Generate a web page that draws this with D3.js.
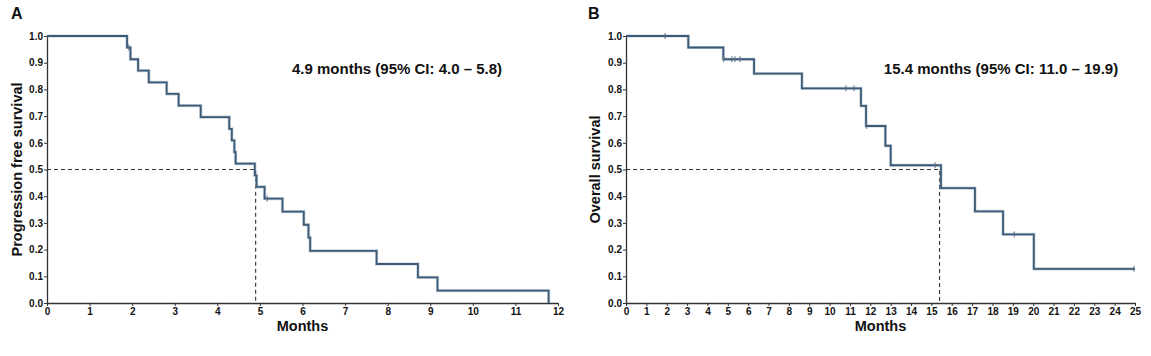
<!DOCTYPE html>
<html>
<head>
<meta charset="utf-8">
<script src="https://cdn.jsdelivr.net/npm/d3@7"></script>
<style>
  body { margin: 0; background: #fff; }
  svg { display: block; font-family: "Liberation Sans", Arial, sans-serif; }
</style>
</head>
<body>
<svg id="chart" width="1151" height="356"></svg>
<script>
// Panel A: progression free survival (step times in months, survival after step)
const pfsTimes = [0, 1.88, 1.96, 2.14, 2.39, 2.81, 3.09, 3.61, 4.28, 4.34, 4.40, 4.43, 4.88, 4.92, 5.11, 5.53, 6.03, 6.14, 6.18, 7.74, 8.71, 9.17, 11.78];
const pfsSurv  = [1.0, 0.957, 0.913, 0.870, 0.826, 0.783, 0.739, 0.696, 0.652, 0.609, 0.565, 0.522, 0.478, 0.435, 0.391, 0.342, 0.293, 0.245, 0.195, 0.146, 0.096, 0.046, 0.0];
const pfsCensorTimes = [1.92, 5.17];
const pfsMedian = 4.9;
const pfsLabel = "4.9 months (95% CI: 4.0 \u2013 5.8)";
const pfsXTicks = [0,1,2,3,4,5,6,7,8,9,10,11,12];

// Panel B: overall survival
const osTimes = [0, 3.06, 4.78, 6.29, 8.64, 11.54, 11.79, 12.74, 13.0, 15.47, 17.14, 18.52, 20.03, 25];
const osSurv  = [1.0, 0.957, 0.913, 0.859, 0.804, 0.738, 0.663, 0.589, 0.516, 0.43, 0.343, 0.257, 0.128, 0.128];
const osCensorTimes = [1.92, 4.8, 5.2, 5.35, 5.6, 10.8, 11.2, 11.82, 15.18, 19.07, 24.95];
const osMedian = 15.4;
const osLabel = "15.4 months (95% CI: 11.0 \u2013 19.9)";
const osXTicks = d3.range(0, 26);

const yTicks = [0,0.1,0.2,0.3,0.4,0.5,0.6,0.7,0.8,0.9,1.0];

const svg = d3.select("#chart");
const lineColor = "#3d5a76";

function survAt(times, surv, t) {
  let s = surv[0];
  for (let i = 0; i < times.length; i++) if (times[i] <= t) s = surv[i];
  return s;
}

function panel(opt) {
  const g = svg.append("g");
  const x = d3.scaleLinear().domain([0, opt.xMax]).range([opt.x0, opt.x1]);
  const y = d3.scaleLinear().domain([0, 1]).range([303, 36]);

  // axes
  const xAxis = d3.axisBottom(x).tickValues(opt.xTicks).tickSize(3).tickSizeOuter(0).tickFormat(d3.format("d"));
  const gx = g.append("g").attr("transform", `translate(0,${y(0)})`).call(xAxis);
  const yAxis = d3.axisLeft(y).tickValues(yTicks).tickSize(3).tickSizeOuter(0).tickFormat(d3.format(".1f"));
  const gy = g.append("g").attr("transform", `translate(${x(0)},0)`).call(yAxis);
  [gx, gy].forEach(a => {
    a.select(".domain").attr("stroke", "#333").attr("stroke-width", 1.3);
    a.selectAll(".tick line").attr("stroke", "#333");
    a.selectAll(".tick text").attr("fill", "#111").attr("font-size", 10).attr("font-weight", "bold")
      .attr("font-family", "Liberation Sans, Arial, sans-serif");
  });
  gx.selectAll(".tick text").attr("dy", "0.75em").attr("y", 4);
  gy.selectAll(".tick text").attr("x", -4);

  // median dashed lines
  g.append("path")
    .attr("d", `M${x(0)},${y(0.5)}H${x(opt.median)}V${y(0)}`)
    .attr("fill", "none").attr("stroke", "#333").attr("stroke-width", 1.1)
    .attr("stroke-dasharray", "4,3");

  // step curve
  const pts = opt.times.map((t, i) => [t, opt.surv[i]]);
  const line = d3.line().x(d => x(d[0])).y(d => y(d[1])).curve(d3.curveStepAfter);
  g.append("path").datum(pts).attr("d", line)
    .attr("fill", "none").attr("stroke", "#9fb3c6").attr("stroke-width", 3.2).attr("opacity", 0.6);
  g.append("path").datum(pts).attr("d", line)
    .attr("fill", "none").attr("stroke", lineColor).attr("stroke-width", 1.8);

  // censor marks
  g.selectAll(".cens").data(opt.censors).enter().append("line")
    .attr("x1", d => x(d)).attr("x2", d => x(d))
    .attr("y1", d => y(survAt(opt.times, opt.surv, d)) - 3)
    .attr("y2", d => y(survAt(opt.times, opt.surv, d)) + 3)
    .attr("stroke", "#5a6f82").attr("stroke-width", 1);

  // annotation
  g.append("text").attr("x", opt.labelX).attr("y", 74).attr("text-anchor", "middle")
    .attr("font-size", 15).attr("font-weight", "bold").attr("fill", "#111").text(opt.label);

  // axis titles
  g.append("text").attr("x", (opt.x0 + opt.x1) / 2).attr("y", 331).attr("text-anchor", "middle")
    .attr("font-size", 14.5).attr("font-weight", "bold").attr("fill", "#111").text("Months");
  g.append("text").attr("transform", `translate(${opt.yTitleX},${(36 + 303) / 2}) rotate(-90)`)
    .attr("text-anchor", "middle").attr("font-size", 14.5).attr("font-weight", "bold").attr("fill", "#111")
    .text(opt.yTitle);

  // panel letter
  g.append("text").attr("x", opt.letterX).attr("y", 19).attr("font-size", 16).attr("font-weight", "bold")
    .attr("fill", "#111").text(opt.letter);
}

panel({ x0: 47, x1: 558, xMax: 12, xTicks: pfsXTicks, times: pfsTimes, surv: pfsSurv,
  censors: pfsCensorTimes, median: pfsMedian, label: pfsLabel, labelX: 397,
  yTitle: "Progression free survival", yTitleX: 22, letter: "A", letterX: 11 });

panel({ x0: 626, x1: 1135, xMax: 25, xTicks: osXTicks, times: osTimes, surv: osSurv,
  censors: osCensorTimes, median: osMedian, label: osLabel, labelX: 1001,
  yTitle: "Overall survival", yTitleX: 600, letter: "B", letterX: 588 });
</script>
</body>
</html>
